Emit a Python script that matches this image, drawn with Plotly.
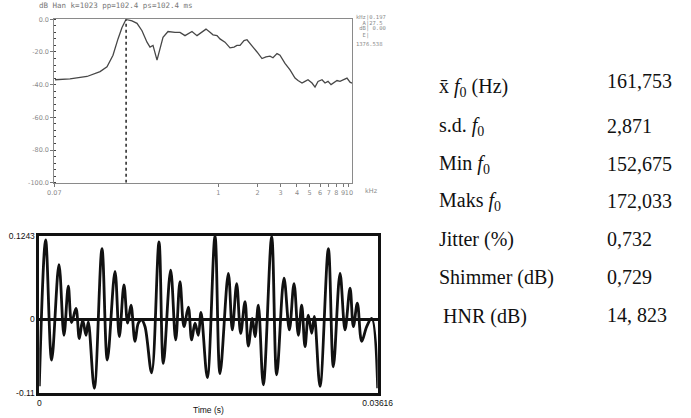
import math
import plotly.graph_objects as go

W, H = 691, 418

# ---------------- Spectrum (top panel) ----------------
spec_khz = [0.0563, 0.0733, 0.0989, 0.1245, 0.1407, 0.1564, 0.1708, 0.1833, 0.197, 0.2186,
            0.2388, 0.2607, 0.2847, 0.3002, 0.3165, 0.3396, 0.3775, 0.4123, 0.4664, 0.5093,
            0.5562, 0.5864, 0.6289, 0.6871, 0.7374, 0.8052, 0.8640, 0.9108, 0.9775, 1.030,
            1.125, 1.229, 1.319, 1.390, 1.466, 1.573, 1.658, 1.748, 1.843, 1.978,
            2.160, 2.317, 2.486, 2.621, 2.813, 2.965, 3.238, 3.538, 3.863, 4.073,
            4.370, 4.607, 4.857, 5.212, 5.495, 5.794, 6.218, 6.555, 6.912, 7.287,
            7.683, 8.100, 8.534, 9.156, 9.654, 10.18, 10.54]
spec_db = [-37, -36.5, -35, -32, -29, -22, -12, -5, 0, -1,
           -2.5, -7, -14, -17, -16, -25, -11, -7.5, -8, -8,
           -10, -9, -7.5, -10, -8, -6, -8, -9.5, -10, -12,
           -14, -17.5, -17, -16, -16, -13, -12.5, -15, -17, -20,
           -24, -23, -22.5, -23.5, -21, -22, -27, -31, -36, -37.5,
           -39, -38, -37, -39, -41.5, -38, -37, -39, -38, -40,
           -39, -37.5, -38, -37, -36, -38.5, -39]
cursor_khz = 0.197
spec_x_range_khz = [0.0556, 10.6]
spec_y_range = [-100, 0]
spec_ytick_vals = [0, -20, -40, -60, -80, -100]
spec_ytick_text = ["0.0", "-20.0", "-40.0", "-60.0", "-80.0", "-100.0"]
spec_xtick_vals = [0.0556, 1, 2, 3, 4, 5, 6, 7, 8, 9, 10]
spec_xtick_text = ["0.07", "1", "2", "3", "4", "5", "6", "7", "8", "9", "10"]
spec_title = "dB Han k=1023 pp=102.4 ps=102.4 ms"
spec_readout = ["kHz|0.197", "  A|27.5", " dB| 0.00", "  E|", "1376.538"]

# ---------------- Waveform (bottom panel) ----------------
wave_t = [0, 0.000677, 0.001318, 0.002102, 0.002636, 0.003099, 0.003455, 0.003919, 0.004275, 0.004631,
          0.004988, 0.005237, 0.005878, 0.006698, 0.007268, 0.008087, 0.008550, 0.009049, 0.009441, 0.009797,
          0.010225, 0.010581, 0.010937, 0.011293, 0.012006, 0.012790, 0.013253, 0.014037, 0.014571, 0.015034,
          0.015461, 0.015925, 0.016281, 0.016637, 0.016994, 0.017279, 0.017956, 0.018775, 0.019309, 0.020200,
          0.020627, 0.021091, 0.021518, 0.021981, 0.022337, 0.022765, 0.023050, 0.023406, 0.023940, 0.024831,
          0.025366, 0.026149, 0.026719, 0.027218, 0.027681, 0.028038, 0.028394, 0.028750, 0.029107, 0.029392,
          0.029997, 0.030888, 0.031422, 0.032135, 0.032669, 0.033204, 0.033560, 0.033987, 0.034450, 0.034985,
          0.035519, 0.03616]
wave_v = [-0.100, 0.118, -0.061, 0.081, -0.024, 0.049, -0.005, 0.016, -0.029, -0.001,
          -0.024, -0.004, -0.103, 0.105, -0.061, 0.071, -0.026, 0.051, -0.006, 0.021,
          -0.033, -0.006, -0.001, -0.011, -0.080, 0.115, -0.066, 0.073, -0.031, 0.056,
          -0.011, 0.018, -0.031, -0.006, -0.024, 0.010, -0.087, 0.124, -0.081, 0.068,
          -0.016, 0.053, -0.021, 0.026, -0.040, 0.001, -0.026, 0.021, -0.098, 0.123,
          -0.083, 0.061, -0.016, 0.053, -0.024, 0.021, -0.041, 0.006, -0.021, 0.004,
          -0.100, 0.105, -0.071, 0.068, -0.016, 0.046, -0.011, 0.024, -0.033, -0.011,
          0.001, -0.103]
wave_x_range = [0, 0.03616]
wave_y_range = [-0.11, 0.1243]
wave_ytick_vals = [-0.11, 0, 0.1243]
wave_ytick_text = ["-0.11", "0", "0.1243"]
wave_xtick_vals = [0, 0.03616]
wave_xtick_text = ["0", "0.03616"]
wave_xtitle = "Time (s)"

# ---------------- Parameter table ----------------
param_labels = ["x̄ <i>f</i><sub>0</sub> (Hz)", "s.d. <i>f</i><sub>0</sub>", "Min <i>f</i><sub>0</sub>",
                "Maks <i>f</i><sub>0</sub>", "Jitter (%)", "Shimmer (dB)", "HNR (dB)"]
param_values = ["161,753", "2,871", "152,675", "172,033", "0,732", "0,729", "14, 823"]


def px(x):
    return x / W


def py(y):
    return 1 - y / H


fig = go.Figure()

fig.add_trace(go.Scatter(x=spec_khz, y=spec_db, mode="lines", xaxis="x", yaxis="y",
                         line=dict(color="#474747", width=1.3), showlegend=False,
                         hoverinfo="skip"))
fig.add_trace(go.Scatter(x=[cursor_khz, cursor_khz], y=spec_y_range, mode="lines",
                         xaxis="x", yaxis="y", line=dict(color="#222", width=1.5, dash="dot"),
                         showlegend=False, hoverinfo="skip"))
fig.add_trace(go.Scatter(x=wave_t, y=wave_v, mode="lines", xaxis="x2", yaxis="y2",
                         line=dict(color="#111", width=2.8, shape="spline", smoothing=1.0),
                         showlegend=False, hoverinfo="skip"))

fig.update_layout(
    width=W, height=H,
    margin=dict(l=0, r=0, t=0, b=0, autoexpand=False),
    paper_bgcolor="white", plot_bgcolor="white",
    font=dict(family="Liberation Sans", color="#111"),
    xaxis=dict(domain=[px(54.3), px(352.3)], anchor="y", type="log", automargin=False,
               range=[math.log10(spec_x_range_khz[0]), math.log10(spec_x_range_khz[1])],
               tickvals=spec_xtick_vals, ticktext=spec_xtick_text, tickangle=0,
               ticks="outside", ticklen=3, tickcolor="#777", tickwidth=1,
               tickfont=dict(size=6.5, color="#8a8a8a", family="DejaVu Sans"),
               showline=True, linecolor="#8a8a8a", linewidth=1, mirror=True,
               showgrid=False, zeroline=False),
    yaxis=dict(domain=[py(182.7), py(19.3)], anchor="x", range=spec_y_range, automargin=False,
               tickvals=spec_ytick_vals, ticktext=spec_ytick_text,
               ticks="outside", ticklen=3, tickcolor="#777",
               tickfont=dict(size=6.5, color="#8a8a8a", family="DejaVu Sans"),
               minor=dict(ticks="inside", dtick=4, ticklen=2, tickcolor="#444"),
               showline=True, linecolor="#8a8a8a", linewidth=1, mirror=True,
               showgrid=False, zeroline=False),
    xaxis2=dict(domain=[px(39.3), px(377.7)], anchor="y2", range=wave_x_range, automargin=False,
                tickvals=wave_xtick_vals, ticktext=wave_xtick_text, ticks="", tickangle=0,
                tickfont=dict(size=8.5, color="#111"),
                showline=True, linecolor="#111", linewidth=2.5, mirror=True,
                showgrid=False, zeroline=False),
    yaxis2=dict(domain=[py(393), py(235.7)], anchor="x2", range=wave_y_range, automargin=False,
                tickvals=wave_ytick_vals, ticktext=wave_ytick_text, ticks="",
                tickfont=dict(size=8.5, color="#111"),
                showline=True, linecolor="#111", linewidth=2.5, mirror=True,
                showgrid=False, zeroline=True, zerolinecolor="#111", zerolinewidth=2.5),
)

annotations = []
annotations.append(dict(x=px(37), y=py(6), xref="paper", yref="paper", text=spec_title,
                        showarrow=False, xanchor="left", yanchor="middle",
                        font=dict(family="DejaVu Sans Mono", size=7.5, color="#777")))
readout_y = [17, 23, 29, 35, 44]
for txt, yy in zip(spec_readout, readout_y):
    annotations.append(dict(x=px(354), y=py(yy), xref="paper", yref="paper", text=txt,
                            showarrow=False, xanchor="left", yanchor="middle",
                            font=dict(family="DejaVu Sans Mono", size=5.5, color="#8a8a8a")))
annotations.append(dict(x=px(363), y=py(191), xref="paper", yref="paper", text="kHz",
                        showarrow=False, xanchor="left", yanchor="middle",
                        font=dict(family="DejaVu Sans", size=6.5, color="#8a8a8a")))
annotations.append(dict(x=px(208), y=py(410), xref="paper", yref="paper", text=wave_xtitle,
                        showarrow=False, xanchor="center", yanchor="middle",
                        font=dict(family="Liberation Sans", size=8.5, color="#111")))

label_y = [87, 127, 164, 201, 239, 277, 316]
value_y = [81, 126, 164, 201, 239, 277, 315]
label_x = [437, 437, 437, 437, 437, 437, 441]
for lab, val, ly, vy, lx in zip(param_labels, param_values, label_y, value_y, label_x):
    annotations.append(dict(x=px(lx), y=py(ly), xref="paper", yref="paper", text=lab,
                            showarrow=False, xanchor="left", yanchor="middle",
                            font=dict(family="Liberation Serif", size=20, color="#111")))
    annotations.append(dict(x=px(605), y=py(vy), xref="paper", yref="paper", text=val,
                            showarrow=False, xanchor="left", yanchor="middle",
                            font=dict(family="Liberation Serif", size=20, color="#111")))

fig.update_layout(annotations=annotations)

fig.write_html("out.html", config={"displayModeBar": False},
               post_script="document.body.style.margin='0';document.body.style.padding='0';")
